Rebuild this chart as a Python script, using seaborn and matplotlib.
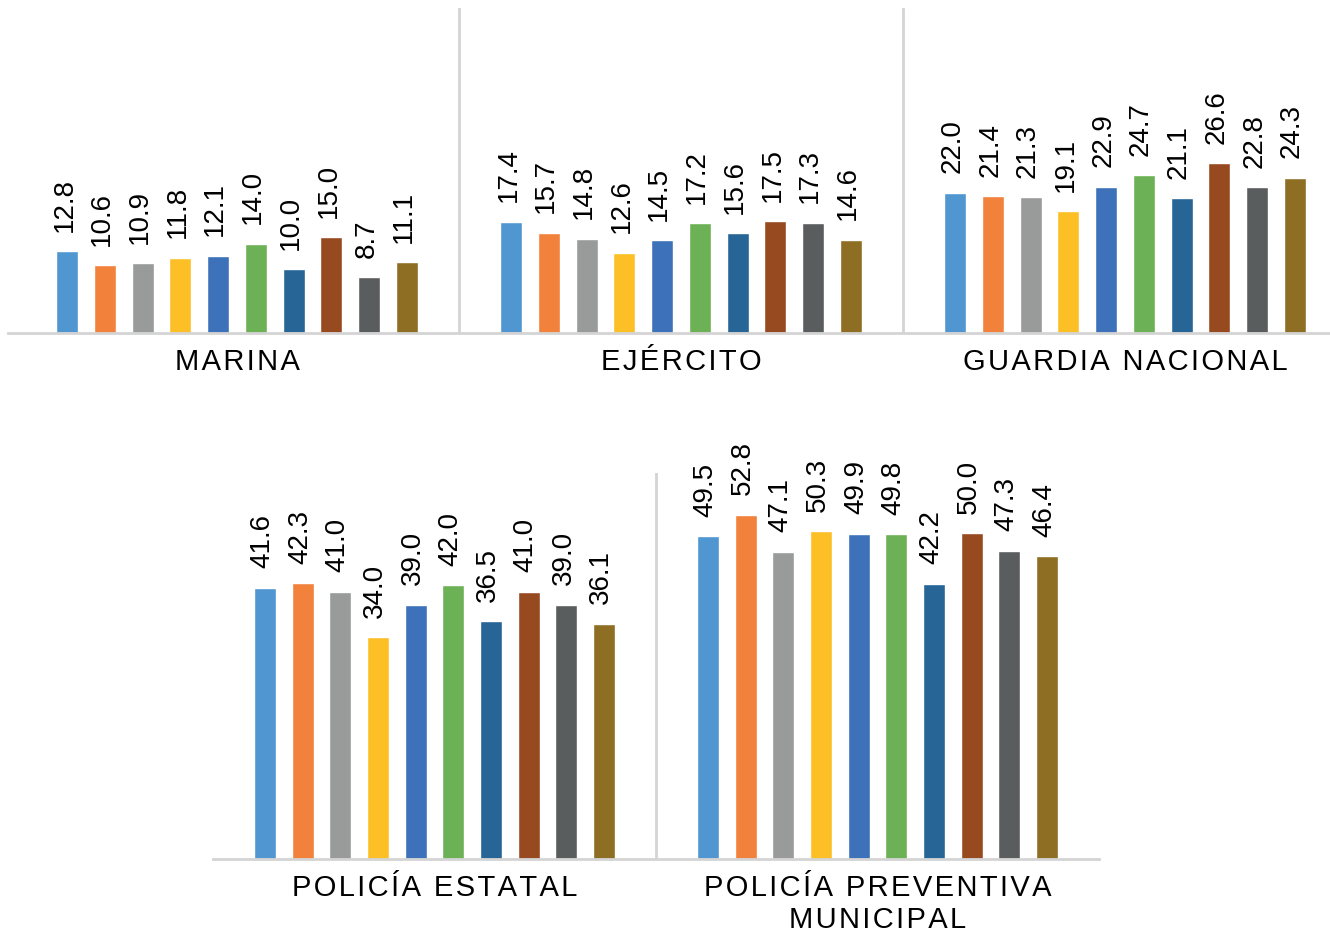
import pandas as pd
import numpy as np
import seaborn as sns
import matplotlib.pyplot as plt

# data
top_groups = ['MARINA', 'EJÉRCITO', 'GUARDIA NACIONAL']
bottom_groups = ['POLICÍA ESTATAL', 'POLICÍA PREVENTIVA\nMUNICIPAL']
series = ['S1', 'S2', 'S3', 'S4', 'S5', 'S6', 'S7', 'S8', 'S9', 'S10']

marina = [12.8, 10.6, 10.9, 11.8, 12.1, 14.0, 10.0, 15.0, 8.7, 11.1]
ejercito = [17.4, 15.7, 14.8, 12.6, 14.5, 17.2, 15.6, 17.5, 17.3, 14.6]
guardia = [22.0, 21.4, 21.3, 19.1, 22.9, 24.7, 21.1, 26.6, 22.8, 24.3]
estatal = [41.6, 42.3, 41.0, 34.0, 39.0, 42.0, 36.5, 41.0, 39.0, 36.1]
municipal = [49.5, 52.8, 47.1, 50.3, 49.9, 49.8, 42.2, 50.0, 47.3, 46.4]

colors = ['#5097D2', '#F2813C', '#999B9B', '#FDBF26', '#3D72BA',
          '#6CB155', '#276596', '#974A20', '#5A5D5E', '#8E6E23']

sns.set_theme(style='white')
plt.rcParams['font.family'] = ['Liberation Sans', 'DejaVu Sans']

HS = '\u200a'


def spaced(s):
    # letter spacing like the original
    return '\n'.join(HS.join(line) for line in s.split('\n'))


def long_df(groups, values):
    rows = []
    for g, vals in zip(groups, values):
        for s, v in zip(series, vals):
            rows.append({'grupo': g, 'serie': s, 'valor': v})
    return pd.DataFrame(rows)


def draw(ax, groups, values, ylim, xlim):
    df = long_df(groups, values)
    sns.barplot(data=df, x='grupo', y='valor', hue='serie', palette=colors,
                width=0.85, gap=0.42, saturation=1, legend=False, ax=ax,
                errorbar=None)
    for cont in ax.containers:
        for bar in cont:
            h = bar.get_height()
            ax.annotate(f'{h:.1f}', (bar.get_x() + bar.get_width() / 2, h),
                        xytext=(-2, 14), textcoords='offset points',
                        rotation=90, ha='center', va='bottom', fontsize=20,
                        color='black')
    ax.set_ylim(*ylim)
    ax.set_xlim(*xlim)
    for i in range(len(groups) - 1):
        ax.axvline(i + 0.5, color='#D4D4D4', lw=2, zorder=0)
    for s in ['top', 'right', 'left']:
        ax.spines[s].set_visible(False)
    ax.spines['bottom'].set_color('#D4D4D4')
    ax.spines['bottom'].set_linewidth(2)
    ax.set_yticks([])
    ax.set_xticks(range(len(groups)))
    ax.set_xticklabels([spaced(g) for g in groups], fontsize=21,
                       linespacing=1.15, color='black')
    ax.tick_params(axis='x', length=0, pad=11)
    ax.set_xlabel('')
    ax.set_ylabel('')


fig = plt.figure(figsize=(13.3, 9.34), dpi=100)
ax1 = fig.add_axes([8 / 1330, 1 - 333 / 934, 1322 / 1330, 325 / 934])
ax2 = fig.add_axes([213 / 1330, 1 - 859 / 934, 886 / 1330, 386 / 934])

draw(ax1, top_groups, [marina, ejercito, guardia], (0, 50.9),
     (-0.5 - 7 / 444, 1.5 + 427 / 444))
draw(ax2, bottom_groups, [estatal, municipal], (0, 59.2), (-0.5, 1.5))

fig.savefig('out.png', dpi=100)
